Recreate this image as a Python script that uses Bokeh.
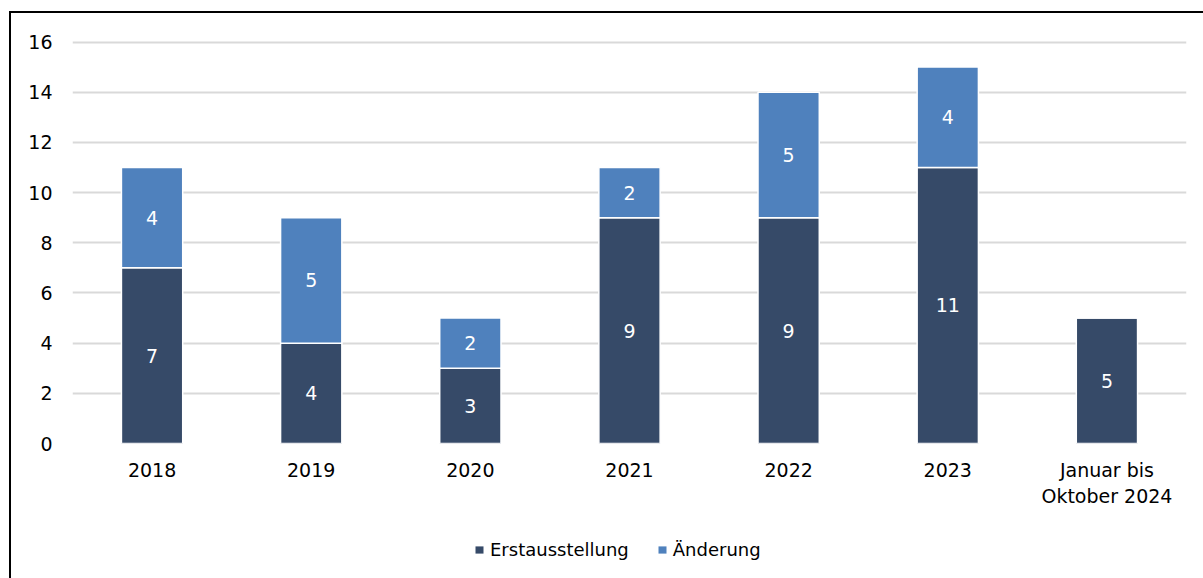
from bokeh.plotting import figure
from bokeh.layouts import column
from bokeh.models import ColumnDataSource, Legend, LegendItem, FactorRange, FixedTicker
from bokeh.embed import file_html
from bokeh.resources import INLINE
from bokeh.core.properties import value

categories = ["2018", "2019", "2020", "2021", "2022", "2023", "Januar bis\nOktober 2024"]
erstausstellung = [7, 4, 3, 9, 9, 11, 5]
aenderung = [4, 5, 2, 2, 5, 4, 0]
series_names = ["Erstausstellung", "Änderung"]
y_ticks = [0, 2, 4, 6, 8, 10, 12, 14, 16]

DARK = "#364a68"
LIGHT = "#4f81bd"
FONT = "DejaVu Sans"
FS = "19px"

src = ColumnDataSource(dict(cat=categories, erst=erstausstellung, aend=aenderung))

p = figure(x_range=FactorRange(*categories), y_range=(0, 16.06),
           width=1192, height=500, output_backend="svg", toolbar_location=None,
           min_border_left=61, min_border_right=17, min_border_top=27, min_border_bottom=70)

rs = p.vbar_stack(["erst", "aend"], x="cat", width=0.385, source=src,
                  color=[DARK, LIGHT], line_color="white", line_width=1.5)

# segment labels
lab_x, lab_y, lab_t = [], [], []
for c, a, b in zip(categories, erstausstellung, aenderung):
    if a:
        lab_x.append(c); lab_y.append(a / 2); lab_t.append(str(a))
    if b:
        lab_x.append(c); lab_y.append(a + b / 2); lab_t.append(str(b))
p.text(x=lab_x, y=lab_y, text=lab_t, text_color="white", text_font=value(FONT),
       text_font_size=FS, text_align="center", text_baseline="middle")

p.xgrid.visible = False
p.ygrid.grid_line_color = "#d9d9d9"
p.ygrid.grid_line_width = 2
p.ygrid.ticker = FixedTicker(ticks=y_ticks)
p.yaxis.ticker = FixedTicker(ticks=y_ticks)
p.outline_line_color = None

for ax in (p.xaxis[0], p.yaxis[0]):
    ax.axis_line_color = None
    ax.major_tick_line_color = None
    ax.minor_tick_line_color = None
    ax.major_label_text_font = FONT
    ax.major_label_text_font_size = FS
    ax.major_label_text_color = "black"
p.yaxis.major_label_standoff = 14
p.xaxis.major_label_standoff = 9

# legend strip below the chart (swatch renderers have zero height, so they draw nothing)
lf = figure(width=1192, height=65, output_backend="svg", toolbar_location=None,
            x_axis_type=None, y_axis_type=None, min_border=0,
            x_range=(0, 1), y_range=(0, 1))
lf.outline_line_color = None
lr0 = lf.vbar(x=[0.5], top=[0], bottom=[0], width=0.1, color=DARK, line_color=None)
lr1 = lf.vbar(x=[0.5], top=[0], bottom=[0], width=0.1, color=LIGHT, line_color=None)
legend = Legend(items=[LegendItem(label=series_names[0], renderers=[lr0]),
                       LegendItem(label=series_names[1], renderers=[lr1])],
                orientation="horizontal", location=(402, 18),
                border_line_color=None, background_fill_alpha=0,
                glyph_width=10, glyph_height=9, label_standoff=6, spacing=28,
                padding=0, margin=0, label_text_font=FONT, label_text_font_size="18px",
                label_text_color="black")
lf.add_layout(legend)

page = column(p, lf, spacing=0,
              styles={"transform": "translate(9px, 11px)",
                      "border-left": "2px solid black", "border-top": "2px solid black"})

open("out.html", "w").write(file_html(page, INLINE))
